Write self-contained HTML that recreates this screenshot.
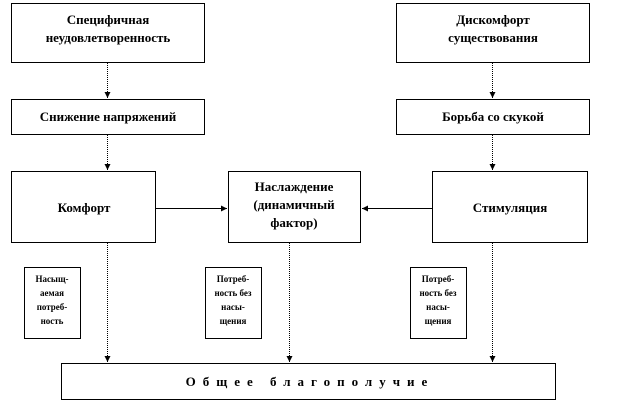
<!DOCTYPE html>
<html><head><meta charset="utf-8"><style>
body{margin:0;background:#fff}
svg{display:block}
text{font-family:"Liberation Serif","DejaVu Serif",serif;font-weight:bold;fill:#000;text-anchor:middle}
</style></head><body>
<svg width="624" height="402" viewBox="0 0 624 402" xmlns="http://www.w3.org/2000/svg">
<defs><marker id="a" markerWidth="8" markerHeight="8" refX="6" refY="3" orient="auto" markerUnits="userSpaceOnUse"><path d="M0,0 L6,3 L0,6 z" fill="#000"/></marker></defs>
<g fill="none" stroke="#000" stroke-width="1">
<rect x="11.5" y="3.5" width="193" height="59"/>
<rect x="11.5" y="99.5" width="193" height="35"/>
<rect x="396.5" y="3.5" width="193" height="59"/>
<rect x="396.5" y="99.5" width="193" height="35"/>
<rect x="11.5" y="171.5" width="144" height="71"/>
<rect x="228.5" y="171.5" width="132" height="71"/>
<rect x="432.5" y="171.5" width="155" height="71"/>
<rect x="24.5" y="267.5" width="56" height="71"/>
<rect x="205.5" y="267.5" width="56" height="71"/>
<rect x="410.5" y="267.5" width="56" height="71"/>
<rect x="61.5" y="363.5" width="494" height="36"/>
<g stroke-dasharray="1,1">
<line x1="107.5" y1="63" x2="107.5" y2="98" marker-end="url(#a)"/>
<line x1="107.5" y1="135" x2="107.5" y2="170" marker-end="url(#a)"/>
<line x1="492.5" y1="63" x2="492.5" y2="98" marker-end="url(#a)"/>
<line x1="492.5" y1="135" x2="492.5" y2="170" marker-end="url(#a)"/>
<line x1="107.5" y1="243" x2="107.5" y2="362" marker-end="url(#a)"/>
<line x1="289.5" y1="243" x2="289.5" y2="362" marker-end="url(#a)"/>
<line x1="492.5" y1="243" x2="492.5" y2="362" marker-end="url(#a)"/>
</g>
<line x1="156" y1="208.5" x2="227" y2="208.5" marker-end="url(#a)"/>
<line x1="432" y1="208.5" x2="362" y2="208.5" marker-end="url(#a)"/>
</g>
<g font-size="13">
<text x="108" y="24">Специфичная</text>
<text x="108" y="42">неудовлетворенность</text>
<text x="108" y="121">Снижение напряжений</text>
<text x="493" y="24">Дискомфорт</text>
<text x="493" y="42">существования</text>
<text x="493" y="121">Борьба со скукой</text>
<text x="84" y="212">Комфорт</text>
<text x="294" y="191">Наслаждение</text>
<text x="294" y="209">(динамичный</text>
<text x="294" y="227">фактор)</text>
<text x="510" y="212">Стимуляция</text>
</g>
<g font-size="9">
<text x="52" y="282">Насыщ-</text><text x="52" y="296">аемая</text><text x="52" y="310">потреб-</text><text x="52" y="324">ность</text>
<text x="233" y="282">Потреб-</text><text x="233" y="296">ность без</text><text x="233" y="310">насы-</text><text x="233" y="324">щения</text>
<text x="438" y="282">Потреб-</text><text x="438" y="296">ность без</text><text x="438" y="310">насы-</text><text x="438" y="324">щения</text>
</g>
<text x="310" y="386" font-size="13" letter-spacing="7">Общее     благополучие</text>
</svg>
</body></html>
